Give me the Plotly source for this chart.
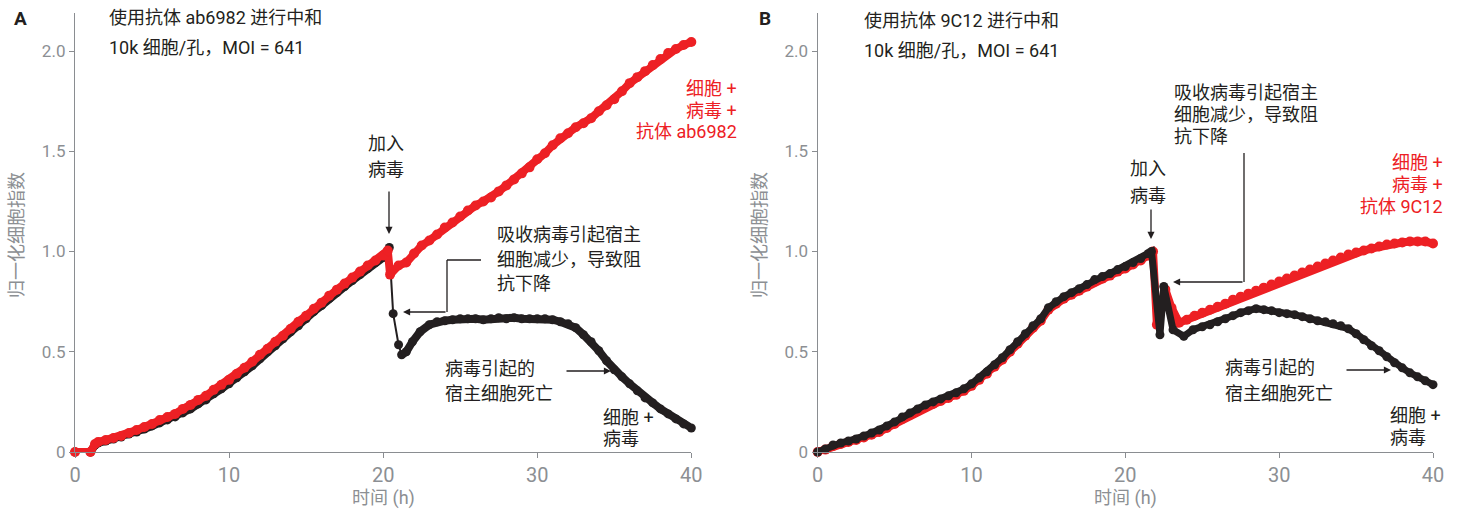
import plotly.graph_objects as go

# ---------------- data ----------------
# Panel A: neutralisation with antibody ab6982
a_cv_t = [0, 1.0, 1.3, 1.5, 2.0, 2.5, 3.0, 3.5, 4.0, 4.5, 5.0, 5.5, 6.0, 6.5, 7.0, 7.5, 8.0, 8.5, 9.0, 9.5,
          10.0, 10.5, 11.0, 11.5, 12.0, 12.5, 13.0, 13.5, 14.0, 14.5, 15.0, 15.5, 16.0, 16.5, 17.0, 17.5,
          18.0, 18.5, 19.0, 19.5, 20.0, 20.4, 20.65, 21.0, 21.2, 21.5, 21.9, 22.4, 23.0, 23.5, 24.0, 24.5,
          25.0, 25.5, 26.0, 26.5, 27.0, 27.5, 28.0, 28.5, 29.0, 29.5, 30.0, 30.5, 31.0, 31.5, 32.0, 32.5,
          33.0, 33.5, 34.0, 34.5, 35.0, 35.5, 36.0, 36.5, 37.0, 37.5, 38.0, 38.5, 39.0, 39.5, 40.0]
a_cv_y = [0, 0, 0.035, 0.045, 0.055, 0.065, 0.075, 0.09, 0.10, 0.115, 0.13, 0.145, 0.16, 0.175, 0.195, 0.215,
          0.24, 0.26, 0.29, 0.315, 0.34, 0.37, 0.40, 0.43, 0.465, 0.50, 0.53, 0.565, 0.60, 0.63, 0.665, 0.70,
          0.73, 0.765, 0.795, 0.825, 0.855, 0.885, 0.915, 0.945, 0.97, 1.02, 0.69, 0.535, 0.485, 0.50, 0.55,
          0.60, 0.635, 0.65, 0.655, 0.66, 0.665, 0.665, 0.665, 0.66, 0.665, 0.67, 0.665, 0.67, 0.665, 0.665,
          0.665, 0.665, 0.66, 0.65, 0.64, 0.62, 0.585, 0.55, 0.505, 0.455, 0.41, 0.375, 0.34, 0.305, 0.27,
          0.245, 0.215, 0.19, 0.165, 0.14, 0.12]
# index range of the sparse readings right after the virus was added
a_cv_gap = (40, 45)

a_cva_t = [0, 1.0, 1.3, 1.5, 2.0, 2.5, 3.0, 3.5, 4.0, 4.5, 5.0, 5.5, 6.0, 6.5, 7.0, 7.5, 8.0, 8.5, 9.0, 9.5,
           10.0, 10.5, 11.0, 11.5, 12.0, 12.5, 13.0, 13.5, 14.0, 14.5, 15.0, 15.5, 16.0, 16.5, 17.0, 17.5,
           18.0, 18.5, 19.0, 19.5, 20.0, 20.3, 20.45, 21.0, 21.5, 22.0, 22.5, 23.0, 23.5, 24.0, 24.5, 25.0,
           25.5, 26.0, 26.5, 27.0, 27.5, 28.0, 28.5, 29.0, 29.5, 30.0, 30.5, 31.0, 31.5, 32.0, 32.5, 33.0,
           33.5, 34.0, 34.5, 35.0, 35.5, 36.0, 36.5, 37.0, 37.5, 38.0, 38.5, 39.0, 39.5, 40.0]
a_cva_y = [0, 0, 0.04, 0.05, 0.06, 0.07, 0.08, 0.095, 0.11, 0.125, 0.14, 0.16, 0.175, 0.19, 0.215, 0.235,
           0.26, 0.28, 0.31, 0.335, 0.36, 0.39, 0.42, 0.45, 0.485, 0.515, 0.55, 0.58, 0.615, 0.65, 0.68,
           0.715, 0.745, 0.78, 0.81, 0.84, 0.87, 0.90, 0.93, 0.955, 0.98, 1.005, 0.885, 0.93, 0.945, 0.99,
           1.03, 1.055, 1.085, 1.12, 1.145, 1.175, 1.205, 1.23, 1.25, 1.27, 1.30, 1.33, 1.36, 1.39, 1.42,
           1.46, 1.49, 1.53, 1.565, 1.59, 1.62, 1.64, 1.665, 1.70, 1.73, 1.76, 1.80, 1.84, 1.87, 1.90, 1.93,
           1.96, 1.99, 2.01, 2.03, 2.045]

# Panel B: neutralisation with antibody 9C12
b_cv_t = [0, 0.5, 1.0, 1.5, 2.0, 2.5, 3.0, 3.5, 4.0, 4.5, 5.0, 5.5, 6.0, 6.5, 7.0, 7.5, 8.0, 8.5, 9.0, 9.5,
          10.0, 10.5, 11.0, 11.5, 12.0, 12.5, 13.0, 13.5, 14.0, 14.5, 15.0, 15.5, 16.0, 16.5, 17.0, 17.5,
          18.0, 18.5, 19.0, 19.5, 20.0, 20.5, 21.0, 21.5, 21.7, 22.25, 22.5, 23.1, 23.8, 24.4, 25.0, 25.5,
          26.0, 26.5, 27.0, 27.5, 28.0, 28.5, 29.0, 29.5, 30.0, 30.5, 31.0, 31.5, 32.0, 32.5, 33.0, 33.5,
          34.0, 34.5, 35.0, 35.5, 36.0, 36.5, 37.0, 37.5, 38.0, 38.5, 39.0, 39.5, 40.0]
b_cv_y = [0, 0.015, 0.035, 0.045, 0.055, 0.065, 0.08, 0.095, 0.11, 0.13, 0.15, 0.175, 0.195, 0.215, 0.235,
          0.25, 0.265, 0.28, 0.295, 0.315, 0.34, 0.37, 0.40, 0.435, 0.47, 0.51, 0.55, 0.59, 0.63, 0.665,
          0.72, 0.75, 0.775, 0.795, 0.815, 0.835, 0.86, 0.875, 0.89, 0.91, 0.925, 0.945, 0.965, 0.99, 1.0,
          0.585, 0.826, 0.61, 0.577, 0.61, 0.625, 0.635, 0.65, 0.665, 0.68, 0.695, 0.705, 0.715, 0.71,
          0.705, 0.695, 0.69, 0.685, 0.675, 0.665, 0.655, 0.65, 0.64, 0.63, 0.615, 0.59, 0.56, 0.53, 0.505,
          0.475, 0.445, 0.42, 0.395, 0.375, 0.355, 0.336]

b_cva_t = [0, 0.5, 1.0, 1.5, 2.0, 2.5, 3.0, 3.5, 4.0, 4.5, 5.0, 5.5, 6.0, 6.5, 7.0, 7.5, 8.0, 8.5, 9.0, 9.5,
           10.0, 10.5, 11.0, 11.5, 12.0, 12.5, 13.0, 13.5, 14.0, 14.5, 15.0, 15.5, 16.0, 16.5, 17.0, 17.5,
           18.0, 18.5, 19.0, 19.5, 20.0, 20.5, 21.0, 21.5, 21.8, 22.05, 22.6, 23.0, 23.5, 24.0, 24.5, 25.0,
           25.5, 26.0, 26.5, 27.0, 27.5, 28.0, 28.5, 29.0, 29.5, 30.0, 30.5, 31.0, 31.5, 32.0, 32.5, 33.0,
           33.5, 34.0, 34.5, 35.0, 35.5, 36.0, 36.5, 37.0, 37.5, 38.0, 38.5, 39.0, 39.5, 40.0]
b_cva_y = [0, 0.012, 0.03, 0.04, 0.05, 0.06, 0.072, 0.086, 0.10, 0.12, 0.14, 0.165, 0.185, 0.205, 0.225,
           0.24, 0.255, 0.27, 0.285, 0.305, 0.33, 0.36, 0.39, 0.425, 0.46, 0.50, 0.54, 0.58, 0.62, 0.655,
           0.71, 0.74, 0.765, 0.785, 0.805, 0.825, 0.85, 0.865, 0.88, 0.90, 0.915, 0.935, 0.955, 0.98, 1.0,
           0.635, 0.81, 0.72, 0.645, 0.66, 0.68, 0.695, 0.71, 0.725, 0.74, 0.76, 0.775, 0.79, 0.805, 0.82,
           0.835, 0.85, 0.865, 0.88, 0.895, 0.91, 0.925, 0.94, 0.955, 0.97, 0.985, 0.995, 1.005, 1.015,
           1.025, 1.035, 1.04, 1.045, 1.05, 1.05, 1.05, 1.04]

x_ticks = [0, 10, 20, 30, 40]
y_ticks = [0, 0.5, 1.0, 1.5, 2.0]
y_tick_text = ["0", "0.5", "1.0", "1.5", "2.0"]

# ---------------- style ----------------
W, H = 1460, 512
ML, MR, MT, MB = 75, 27, 13, 60
PW, PH = W - ML - MR, H - MT - MB

RED = "#ed2024"
BLACK = "#231f20"
AXIS = "#8a8d91"
TICKTXT = "#8c8f93"
FONT = "Roboto, Noto Sans CJK SC, sans-serif"
NARROW = "Liberation Sans Narrow, Roboto, sans-serif"


def fx(p):
    return (p - ML) / PW


def fy(p):
    return (H - MB - p) / PH


def series(t, y, color, xa, ya, lw=7, ms=10, markers=True):
    return go.Scatter(
        x=t, y=y, mode="lines+markers" if markers else "lines", xaxis=xa, yaxis=ya,
        line=dict(color=color, width=lw),
        marker=dict(color=color, size=ms),
        cliponaxis=False, showlegend=False, hoverinfo="skip",
    )


g0, g1 = a_cv_gap
fig = go.Figure()
# cells + virus (A): thin connector through the sparse readings, thick band elsewhere
fig.add_trace(series(a_cv_t, a_cv_y, BLACK, "x", "y", lw=2, ms=9))
fig.add_trace(series(a_cv_t[:g0 + 1], a_cv_y[:g0 + 1], BLACK, "x", "y", lw=8, markers=False))
fig.add_trace(series(a_cv_t[g1 - 1:], a_cv_y[g1 - 1:], BLACK, "x", "y", lw=8, markers=False))
fig.add_trace(series(a_cva_t, a_cva_y, RED, "x", "y", lw=8, ms=10))
fig.add_trace(series(b_cva_t, b_cva_y, RED, "x2", "y2", lw=8, ms=10))
fig.add_trace(series(b_cv_t, b_cv_y, BLACK, "x2", "y2", lw=7, ms=9))

axis_common = dict(
    showline=True, linecolor=AXIS, linewidth=1.3, ticks="outside", ticklen=5, tickwidth=1.3,
    tickcolor=AXIS, showgrid=False, zeroline=False,
)
xa = dict(axis_common, range=[0, 40], tickvals=x_ticks,
          tickfont=dict(family=NARROW, size=20, color=TICKTXT))
ya = dict(axis_common, range=[0, 2.19], tickvals=y_ticks, ticktext=y_tick_text,
          tickfont=dict(family=FONT, size=17, color=TICKTXT))

dom_a = [0, fx(691.3)]
dom_b = [fx(817.7), 1]
fig.update_layout(
    width=W, height=H, margin=dict(l=ML, r=MR, t=MT, b=MB),
    paper_bgcolor="white", plot_bgcolor="white",
    xaxis=dict(xa, domain=dom_a, anchor="y"),
    yaxis=dict(ya, domain=[0, 1], anchor="x"),
    xaxis2=dict(xa, domain=dom_b, anchor="y2"),
    yaxis2=dict(ya, domain=[0, 1], anchor="x2"),
)

ann = []


def text(s, x, y, anchor="left", color=BLACK, size=18, family=FONT, bold=False):
    ann.append(dict(
        text=f"<b>{s}</b>" if bold else s, x=fx(x), y=fy(y), xref="paper", yref="paper",
        xanchor=anchor, yanchor="middle", showarrow=False,
        font=dict(family=family, size=size, color=color),
    ))


def arrow(x_tip, y_tip, x_tail, y_tail):
    ann.append(dict(
        text="", x=fx(x_tip), y=fy(y_tip), xref="paper", yref="paper",
        ax=x_tail - x_tip, ay=y_tail - y_tip, axref="pixel", ayref="pixel",
        showarrow=True, arrowhead=2, arrowsize=1.1, arrowwidth=1.3, arrowcolor=BLACK, standoff=0,
    ))


shapes = []


def seg(x0, y0, x1, y1):
    shapes.append(dict(type="line", xref="paper", yref="paper",
                       x0=fx(x0), y0=fy(y0), x1=fx(x1), y1=fy(y1),
                       line=dict(color=BLACK, width=1.3)))


# panel letters
text("A", 20, 19, anchor="center", size=19, family="Roboto, sans-serif", bold=True)
text("B", 765, 19, anchor="center", size=19, family="Roboto, sans-serif", bold=True)

# axis titles
for cx, ycx in ((383, 17), (1125.5, 760)):
    text("时间 (h)", cx, 498, anchor="center", color=TICKTXT, size=18)
    ann.append(dict(text="归一化细胞指数", x=fx(ycx), y=fy(235), xref="paper", yref="paper",
                    xanchor="center", yanchor="middle", showarrow=False, textangle=-90,
                    font=dict(family=FONT, size=18, color=TICKTXT)))

# ---- panel A notes ----
text("使用抗体 ab6982 进行中和", 107, 18)
text("10k 细胞/孔，MOI = 641", 107, 47)
for s, yy in (("细胞 +", 88), ("病毒 +", 110), ("抗体 ab6982", 132)):
    text(s, 739, yy, anchor="right", color=RED)
text("加入", 386, 143, anchor="center")
text("病毒", 386, 169, anchor="center")
arrow(389, 234, 389, 190)
for s, yy in (("吸收病毒引起宿主", 235), ("细胞减少，导致阻", 259), ("抗下降", 283)):
    text(s, 495, yy)
seg(481, 260, 447, 260)
seg(447, 260, 447, 312)
arrow(403, 312, 447, 312)
text("病毒引起的", 443, 368)
text("宿主细胞死亡", 443, 393)
arrow(611, 371, 565, 371)
text("细胞 +", 601, 417)
text("病毒", 601, 438)

# ---- panel B notes ----
text("使用抗体 9C12 进行中和", 862, 21)
text("10k 细胞/孔，MOI = 641", 862, 50)
for s, yy in (("吸收病毒引起宿主", 92), ("细胞减少，导致阻", 114), ("抗下降", 136)):
    text(s, 1172, yy)
seg(1244, 153, 1244, 282)
arrow(1173, 282, 1244, 282)
text("加入", 1148, 168, anchor="center")
text("病毒", 1148, 195, anchor="center")
arrow(1151, 239, 1151, 208)
for s, yy in (("细胞 +", 162), ("病毒 +", 184), ("抗体 9C12", 206)):
    text(s, 1445, yy, anchor="right", color=RED)
text("病毒引起的", 1223, 367)
text("宿主细胞死亡", 1223, 393)
arrow(1391, 370, 1345, 370)
text("细胞 +", 1388, 415)
text("病毒", 1388, 437)

fig.update_layout(annotations=ann, shapes=shapes)
fig.write_html("out.html")
